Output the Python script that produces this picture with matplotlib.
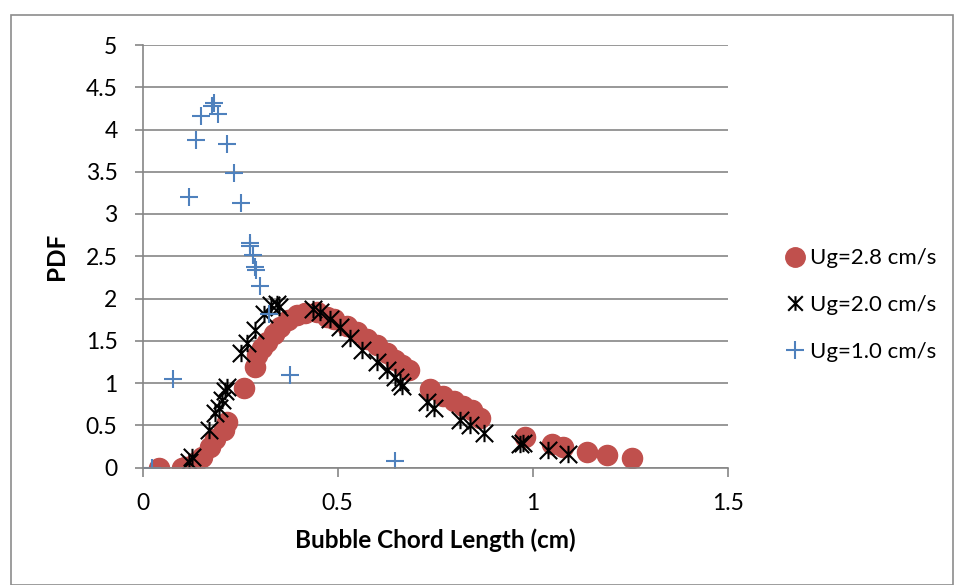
import matplotlib
matplotlib.use("Agg")
import matplotlib.pyplot as plt
from matplotlib.path import Path
from matplotlib.patches import Rectangle
from matplotlib.lines import Line2D

# Ug = 2.8 cm/s
ug28_x = [0.042, 0.101, 0.109, 0.136, 0.153, 0.174, 0.187, 0.208, 0.217, 0.259,
          0.287, 0.294, 0.306, 0.318, 0.336, 0.353, 0.374, 0.396, 0.417, 0.447,
          0.473, 0.490, 0.524, 0.550, 0.575, 0.601, 0.626, 0.648, 0.665, 0.682,
          0.737, 0.771, 0.797, 0.822, 0.844, 0.865, 0.980, 1.049, 1.078, 1.138,
          1.189, 1.253]
ug28_y = [0.00, 0.00, 0.01, 0.07, 0.12, 0.24, 0.34, 0.44, 0.54, 0.94,
          1.19, 1.33, 1.41, 1.49, 1.58, 1.66, 1.74, 1.80, 1.83, 1.84,
          1.78, 1.76, 1.68, 1.60, 1.52, 1.45, 1.35, 1.27, 1.21, 1.15,
          0.93, 0.85, 0.79, 0.73, 0.68, 0.59, 0.36, 0.28, 0.24, 0.18,
          0.15, 0.11]

# Ug = 2.0 cm/s
ug20_x = [0.118, 0.128, 0.171, 0.187, 0.195, 0.203, 0.212, 0.217, 0.253, 0.268,
          0.289, 0.311, 0.328, 0.345, 0.349, 0.438, 0.456, 0.481, 0.507, 0.532,
          0.562, 0.601, 0.626, 0.648, 0.660, 0.665, 0.729, 0.746, 0.814, 0.840,
          0.874, 0.968, 0.976, 1.040, 1.091]
ug20_y = [0.06, 0.12, 0.44, 0.64, 0.71, 0.80, 0.91, 0.95, 1.35, 1.47,
          1.63, 1.82, 1.92, 1.94, 1.90, 1.88, 1.84, 1.76, 1.66, 1.53,
          1.39, 1.25, 1.15, 1.07, 1.01, 0.97, 0.77, 0.71, 0.56, 0.50,
          0.41, 0.28, 0.29, 0.21, 0.16]

# Ug = 1.0 cm/s
ug10_x = [0.025, 0.079, 0.119, 0.137, 0.151, 0.178, 0.183, 0.193, 0.217, 0.235,
          0.252, 0.275, 0.276, 0.282, 0.289, 0.291, 0.302, 0.323, 0.379, 0.648]
ug10_y = [0.00, 1.05, 3.20, 3.87, 4.16, 4.28, 4.31, 4.18, 3.83, 3.48,
          3.13, 2.66, 2.62, 2.51, 2.37, 2.34, 2.15, 1.82, 1.10, 0.08]

labels = ["Ug=2.8 cm/s", "Ug=2.0 cm/s", "Ug=1.0 cm/s"]

red = "#C0504D"
blue = "#4F81BD"
grid = "#868686"

plt.rcParams["font.family"] = ["Lato", "DejaVu Sans"]

# excel-style star: an X with a vertical bar
star = Path([(-1, -1), (1, 1), (-1, 1), (1, -1), (0, -1), (0, 1)],
            [Path.MOVETO, Path.LINETO, Path.MOVETO, Path.LINETO, Path.MOVETO, Path.LINETO])

W, H = 956, 585
fig = plt.figure(figsize=(W / 100, H / 100), dpi=100)
fig.patches.append(Rectangle((11 / W, 0), (953 - 11) / W, 1 - 15 / H,
                             transform=fig.transFigure, fill=False,
                             edgecolor="#8c8c8c", linewidth=1.2))

ax = fig.add_axes([142.5 / W, 1 - 467.5 / H, (728 - 142.5) / W, (467.5 - 45) / H])

ax.plot(ug28_x, ug28_y, linestyle="none", marker="o", markersize=14.5,
        color=red, markeredgecolor=red)
ax.plot(ug20_x, ug20_y, linestyle="none", marker=star, markersize=12.5,
        markerfacecolor="none", markeredgecolor="black", markeredgewidth=1.5)
ax.plot(ug10_x, ug10_y, linestyle="none", marker="+", markersize=13,
        markeredgecolor=blue, markeredgewidth=1.5)

ax.set_xlim(0, 1.5)
ax.set_ylim(0, 5)
ax.set_xticks([0, 0.5, 1, 1.5])
ax.set_xticklabels(["0", "0.5", "1", "1.5"])
ax.set_yticks([0, 0.5, 1, 1.5, 2, 2.5, 3, 3.5, 4, 4.5, 5])
ax.set_yticklabels(["0", "0.5", "1", "1.5", "2", "2.5", "3", "3.5", "4", "4.5", "5"])

ax.grid(axis="y", color=grid, linewidth=1.2)
ax.set_axisbelow(True)
for side in ["top", "right"]:
    ax.spines[side].set_visible(False)
for side in ["left", "bottom"]:
    ax.spines[side].set_color(grid)
    ax.spines[side].set_linewidth(1.2)

ax.tick_params(axis="x", length=6.5, width=1.2, color=grid, pad=11.5, labelsize=16.5)
ax.tick_params(axis="y", length=6, width=1.2, color=grid, pad=12, labelsize=16.5)

ax.set_xlabel("Bubble Chord Length (cm)", fontsize=17.5, fontweight="bold", labelpad=11)
ax.set_ylabel("PDF", fontsize=17.5, fontweight="bold", labelpad=13)

handles = [
    Line2D([], [], linestyle="none", marker="o", markersize=14, color=red),
    Line2D([], [], linestyle="none", marker=star, markersize=10.5,
           markerfacecolor="none", markeredgecolor="black", markeredgewidth=1.5),
    Line2D([], [], linestyle="none", marker="+", markersize=13,
           markeredgecolor=blue, markeredgewidth=1.5),
]
fig.legend(handles, labels, loc="center left", bbox_to_anchor=(770 / W, 1 - 305 / H),
           frameon=False, fontsize=16, labelspacing=1.2, handletextpad=0.05,
           handlelength=1.25, borderpad=0)

fig.savefig("out.png", dpi=100)
